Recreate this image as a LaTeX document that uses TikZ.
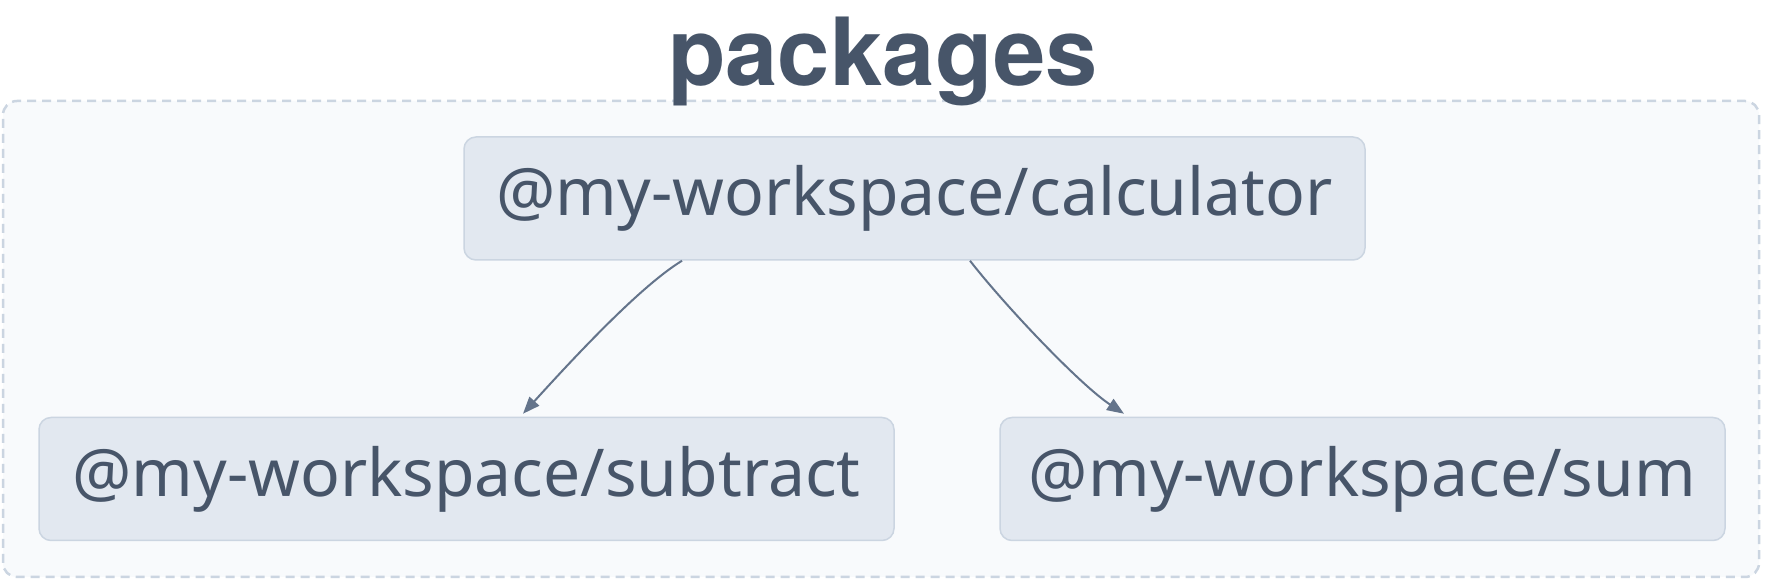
\documentclass[tikz,border=0pt]{standalone}
\usepackage{fontspec}
\setmainfont{Noto Sans}
\newfontfamily\titlefont{TeX Gyre Heros}
\usetikzlibrary{arrows.meta}
\definecolor{txt}{HTML}{475569}
\definecolor{nodefill}{HTML}{E2E8F0}
\definecolor{nodeline}{HTML}{CBD5E1}
\definecolor{groupfill}{HTML}{F8FAFC}
\definecolor{edge}{HTML}{64748B}
\tikzset{
  groupbox/.style={draw=nodeline, fill=groupfill, line width=2.5pt, dash pattern=on 9pt off 6pt, rounded corners=14pt},
  grouptitle/.style={text=txt, font=\titlefont\bfseries\fontsize{94}{110}\selectfont, anchor=base, inner sep=0pt},
  pkg/.style={draw=nodeline, fill=nodefill, line width=1.5pt, rounded corners=12pt, text=txt,
    font=\fontsize{66}{79}\selectfont, inner sep=0pt, minimum height=123pt},
  dep/.style={draw=edge, line width=2pt, -{Triangle[length=17pt,width=13pt]}}
}
\begin{document}
\begin{tikzpicture}[x=1pt,y=1pt]
\useasboundingbox (0,0) rectangle (1766,580);
\fill[white] (0,0) rectangle (1766,580);
\draw[groupbox] (3,3) rectangle (1759,479);
\node[grouptitle] (title) at (883,494) {packages};
\node[pkg, minimum width=901pt] (calc) at (914.5,381.5) {@my-workspace/calculator};
\node[pkg, minimum width=855pt] (sub) at (466.5,101) {@my-workspace/subtract};
\node[pkg, minimum width=725pt] (sum) at (1362.5,101) {@my-workspace/sum};
\coordinate (c1) at ([xshift=-232.5pt]calc.south);
\coordinate (c2) at ([xshift=55.5pt]calc.south);
\coordinate (s1) at ([xshift=56.5pt,yshift=3pt]sub.north);
\coordinate (s2) at ([xshift=-238.5pt,yshift=3pt]sum.north);
\draw[dep] (c1) .. controls ([shift={(-36,-22)}]c1) and ([shift={(68,75)}]s1) .. (s1);
\draw[dep] (c2) .. controls ([shift={(35,-45)}]c2) and ([shift={(-44,29)}]s2) .. (s2);
\end{tikzpicture}
\end{document}
